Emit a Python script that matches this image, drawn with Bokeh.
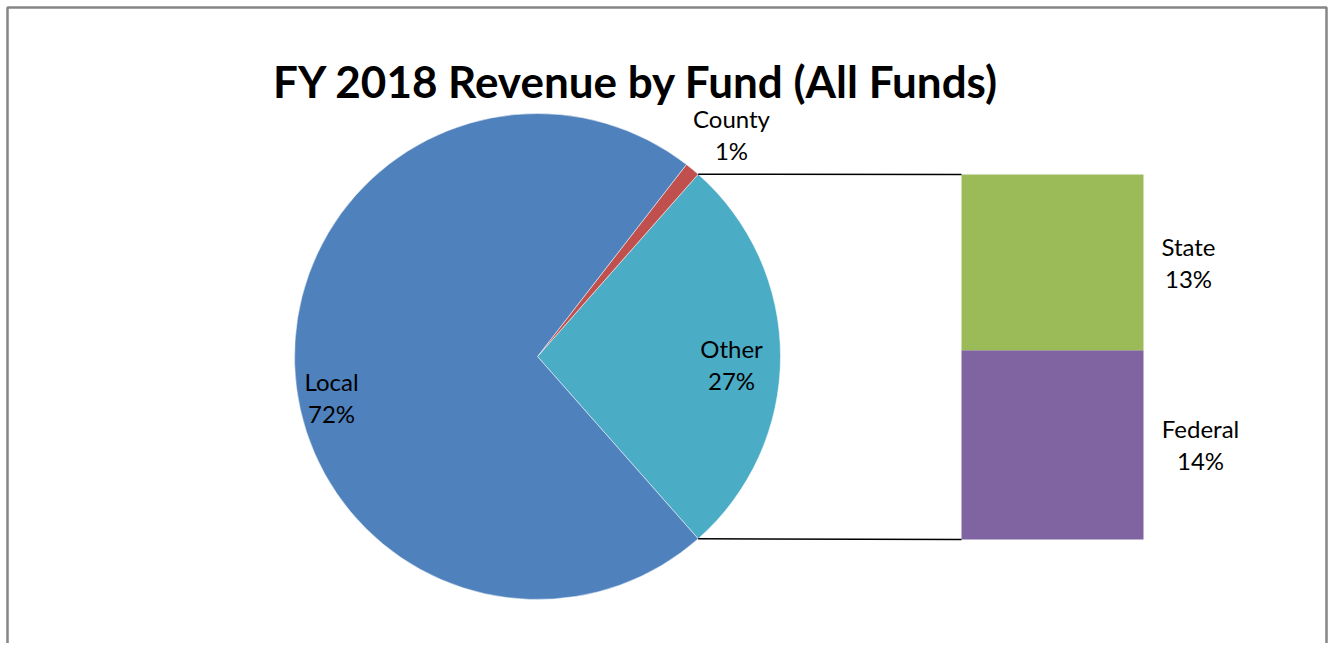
import math
from bokeh.plotting import figure
from bokeh.models import Range1d, ColumnDataSource
from bokeh.core.properties import value
from bokeh.embed import file_html
from bokeh.resources import INLINE

# ---- data ----
pie_names = ["Other", "County", "Local"]
pie_values = [27, 1, 72]
pie_colors = ["#4BACC6", "#C0504D", "#4F81BD"]

bar_names = ["Federal", "State"]
bar_values = [14, 13]
bar_colors = ["#8064A2", "#9BBB59"]

title = "FY 2018 Revenue by Fund (All Funds)"

# ---- layout ----
W, H = 1328, 643
FONT = "Lato"
p = figure(width=W, height=H, output_backend="svg", toolbar_location=None,
           x_range=Range1d(0, W), y_range=Range1d(0, H),
           min_border=0, outline_line_color=None)
p.axis.visible = False
p.grid.visible = False
p.background_fill_color = "white"

def Y(page_y):
    return H - page_y

# border (left, top, right)
p.line(x=[7, 7, W - 2, W - 2], y=[Y(700), Y(7), Y(7), Y(700)], line_color="#868686", line_width=2.5)

cx, cy, R = 537, Y(356), 243
total = sum(pie_values)
start = -math.radians(pie_values[0] / total * 360) / 2
starts, ends = [], []
a = start
for v in pie_values:
    starts.append(a)
    a += math.radians(v / total * 360)
    ends.append(a)

src = ColumnDataSource(dict(x=[cx] * 3, y=[cy] * 3, s=starts, e=ends, c=pie_colors))
p.wedge(x="x", y="y", radius=R, start_angle="s", end_angle="e", fill_color="c",
        line_color="white", line_width=0.5, source=src)

# bar of the "Other" slice
bx0, bx1 = 961, 1143
btop, bbot = Y(174), Y(539)
bh = btop - bbot
other = pie_values[0]
bottoms, tops = [], []
b = bbot
for v in bar_values:
    bottoms.append(b)
    b += bh * v / other
    tops.append(b)
p.quad(left=[bx0] * 2, right=[bx1] * 2, bottom=bottoms, top=tops, fill_color=bar_colors,
       line_color=None)

# connector lines
ux, uy = cx + R * math.cos(ends[0]), cy + R * math.sin(ends[0])
lx, ly = cx + R * math.cos(starts[0]), cy + R * math.sin(starts[0])
p.line(x=[ux, bx0], y=[uy, btop], line_color="black", line_width=1.5)
p.line(x=[lx, bx0], y=[ly, bbot], line_color="black", line_width=1.5)

# labels
label_pos = {"Other": (731, 364), "County": (731, 134), "Local": (331, 397),
             "State": (1188, 262), "Federal": (1200, 444)}
vals = dict(zip(pie_names + bar_names, pie_values + bar_values))
lx_, ly_, lt = [], [], []
for n in pie_names + bar_names:
    x, y = label_pos[n]
    lx_ += [x, x]
    ly_ += [Y(y - 16), Y(y + 16)]
    lt += [n, f"{vals[n]}%"]
p.text(x=lx_, y=ly_, text=lt, text_font=value(FONT), text_font_size="24px",
       text_align="center", text_baseline="middle", text_color="black")

p.text(x=[636], y=[Y(80)], text=[title], text_font=value(FONT), text_font_size="44px",
       text_font_style="bold", text_align="center", text_baseline="middle", text_color="black")

open("out.html", "w").write(file_html(p, INLINE))
